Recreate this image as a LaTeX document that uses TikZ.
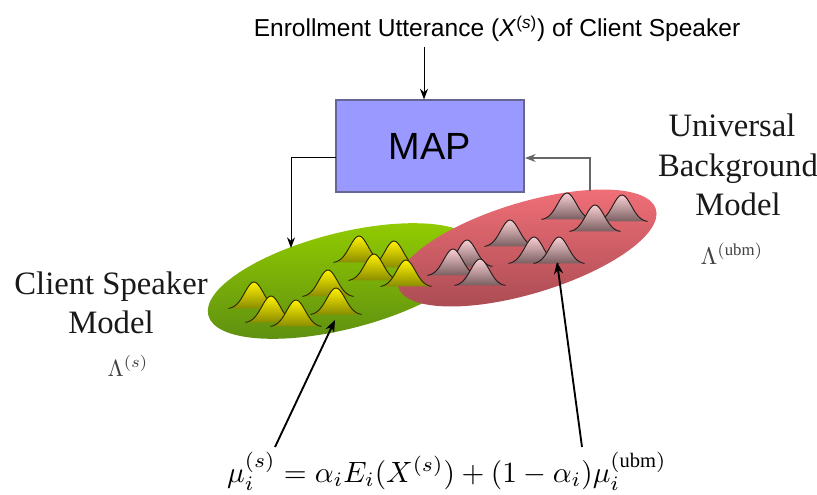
\documentclass[tikz,border=0pt]{standalone}
\usepackage{fontspec}
\usepackage{graphicx}
\setmainfont{Liberation Serif}
\newfontfamily\arialf{Liberation Sans}
\usetikzlibrary{arrows.meta}
\tikzset{
  px/.style={x=0.75pt,y=-0.75pt},
  mapbox/.style={draw=black!70!blue!60,line width=0.9pt,fill=mapblue,minimum width=141pt,minimum height=69pt,inner sep=0pt},
  thinarrow/.style={draw=black,line width=0.7pt,-{Stealth[length=8pt,width=6pt]}},
  greyarrow/.style={draw=black!60,line width=0.8pt,-{Stealth[length=8pt,width=6pt]}},
  thickarrow/.style={draw=black,line width=1.4pt,-{Stealth[length=9pt,width=7pt]}},
  seriflabel/.style={font=\fontsize{24.5}{29.6}\selectfont,align=center,inner sep=0pt,text=black!90},
  lambdalabel/.style={text=black!75,inner sep=0pt},
}
\definecolor{mapblue}{HTML}{9999FF}
\definecolor{greentop}{HTML}{92CC00}
\definecolor{greenbot}{HTML}{5C8C12}
\definecolor{redtop}{HTML}{F27078}
\definecolor{redbot}{HTML}{A84A52}
\definecolor{yelltop}{HTML}{FFF000}
\definecolor{yellbot}{HTML}{8A8C00}
\definecolor{pinktop}{HTML}{F8CFD3}
\definecolor{pinkbot}{HTML}{7A5E60}
% \bump{peak x}{peak y}{half width}{height}{top}{bottom}
\newcommand{\bump}[6]{%
  \path[top color=#5,bottom color=#6,shift={(#1,#2)}]
    plot[domain=-1:1,samples=31,smooth] ({\x*#3},{#4*(1-exp(-3.8*\x*\x))}) -- cycle;
  \draw[line width=0.7pt,draw=black!70!#6,shift={(#1,#2)}]
    plot[domain=-1:1,samples=31,smooth] ({\x*#3},{#4*(1-exp(-3.8*\x*\x))});
}
\newcommand{\ybump}[2]{\bump{#1}{#2}{25.5}{27}{yelltop}{yellbot}}
\newcommand{\rbump}[2]{\bump{#1}{#2}{25.5}{27}{pinktop}{pinkbot}}
\begin{document}
\begin{tikzpicture}[px]
\useasboundingbox (0,0) rectangle (817,494);
% ellipses
\path[top color=greentop,bottom color=greenbot,rotate around={14.3:(343,281)}] (343,281) ellipse [x radius=139,y radius=48];
\ybump{359}{236}\ybump{394}{241}\ybump{374}{254}
\ybump{254}{282}\ybump{271}{296}\ybump{296}{300}
\ybump{328}{270}\ybump{336}{288}
\path[top color=redtop,bottom color=redbot,rotate around={16.8:(527,248)}] (527,248) ellipse [x radius=134.6,y radius=45.6];
\ybump{406}{260}
\rbump{567}{193}\rbump{622}{195}\rbump{595}{205}
\rbump{510}{220}\rbump{534}{237}\rbump{559}{237}
\rbump{467}{240}\rbump{453}{249}\rbump{480}{259}
% box and texts
\node[mapbox] (map) at (430,146) {\arialf\fontsize{28.4}{32}\selectfont MAP};
\node[inner sep=0pt] (enroll) at (497,29) {\arialf\fontsize{18.4}{22}\selectfont Enrollment Utterance (\textit{X}\textsuperscript{(\textit{s})}) of Client Speaker};
\node[seriflabel] (ubm) at (738,165) {Universal\hspace*{9pt}\\Background\\Model};
\node[seriflabel] (client) at (111,303) {Client Speaker\\Model};
\node[lambdalabel] (lu) at (732,254) {\scalebox{1.8}{$\Lambda^{(\mathrm{ubm})}$}};
\node[lambdalabel] (ls) at (128,366) {\scalebox{1.75}{$\Lambda^{(s)}$}};
\node[inner sep=0pt] (eq) at (447,471) {\scalebox{2.2}{$\mu_i^{(s)}=\alpha_i E_i(X^{(s)})+(1-\alpha_i)\mu_i^{(\mathrm{ubm})}$}};
% anchors
\coordinate (mapl) at (336,157);
\coordinate (mapr) at (525,158);
\coordinate (gtop) at (291,248);
\coordinate (rtop) at (590,191);
\coordinate (gbump) at (335,320);
\coordinate (rbump) at (557,262);
\coordinate (eqa) at (275,447);
\coordinate (eqb) at (582,447);
\coordinate (ent) at (424,47);
% connectors
\draw[thinarrow] (ent) -- (ent |- map.north);
\draw[thinarrow] (mapl) -| (gtop);
\draw[greyarrow] (rtop) |- (mapr);
\draw[thickarrow] (eqa) -- (gbump);
\draw[thickarrow] (eqb) -- (rbump);
\end{tikzpicture}
\end{document}
